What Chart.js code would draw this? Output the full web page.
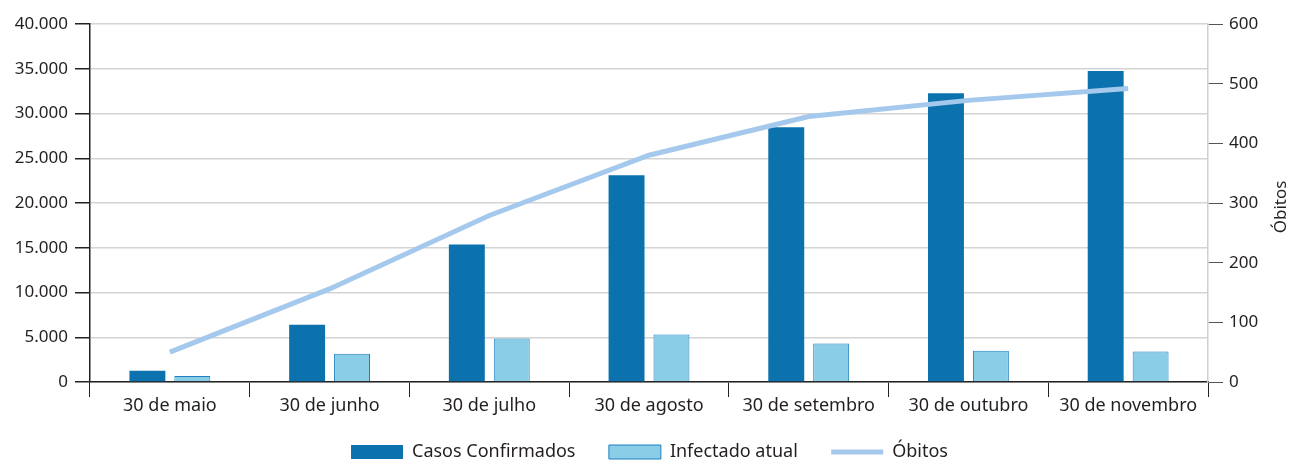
<!DOCTYPE html>
<html>
<head>
<meta charset="utf-8">
<script src="https://cdn.jsdelivr.net/npm/chart.js@4/dist/chart.umd.min.js"></script>
<style>
  html, body { margin: 0; padding: 0; background: #fff; }
  #wrap { width: 1299px; height: 460px; }
</style>
</head>
<body>
<div id="wrap"><canvas id="mycanvas" width="1299" height="460"></canvas></div>
<script>
const categories = ['30 de maio', '30 de junho', '30 de julho', '30 de agosto', '30 de setembro', '30 de outubro', '30 de novembro'];
const casosConfirmados = [1250, 6400, 15350, 23100, 28450, 32250, 34750];
const infectadoAtual = [680, 3150, 4850, 5300, 4300, 3500, 3400];
const obitos = [50, 156, 279, 380, 445, 472, 492];

const textColor = '#231f20';
const fontFamily = '"Noto Sans", "Open Sans", sans-serif';

const fmt = v => String(v).replace(/\B(?=(\d{3})+(?!\d))/g, '.');

// right axis title reads bottom-to-top, so it is drawn here
const rightTitle = {
    id: 'rightTitle',
    afterDraw: chart => {
        const { ctx, chartArea } = chart;
        ctx.save();
        ctx.translate(1281, (chartArea.top + chartArea.bottom) / 2 + 4);
        ctx.rotate(-Math.PI / 2);
        ctx.font = '17px ' + fontFamily;
        ctx.fillStyle = textColor;
        ctx.textAlign = 'center';
        ctx.textBaseline = 'middle';
        ctx.fillText('Óbitos', 0, 0);
        ctx.restore();
    }
};

function createChart() {
    const ctx = document.getElementById('mycanvas').getContext('2d');
    new Chart(ctx, {
        data: {
            labels: categories,
            datasets: [{
                type: 'bar',
                label: 'Casos Confirmados',
                data: casosConfirmados,
                backgroundColor: '#0c72ad',
                borderWidth: 0,
                yAxisID: 'y',
                order: 1,
                categoryPercentage: 0.5625,
                barPercentage: 0.8,
            },
            {
                type: 'bar',
                label: 'Infectado atual',
                data: infectadoAtual,
                backgroundColor: '#89cde6',
                borderColor: '#1f80c0',
                borderWidth: 1,
                yAxisID: 'y',
                order: 1,
                categoryPercentage: 0.5625,
                barPercentage: 0.8,
            },
            {
                type: 'line',
                label: 'Óbitos',
                data: obitos,
                borderColor: '#a5c9ec',
                backgroundColor: '#a5c9ec',
                borderWidth: 5,
                pointRadius: 0,
                tension: 0,
                yAxisID: 'y1',
                order: 0,
            }]
        },
        options: {
            responsive: false,
            animation: false,
            layout: { padding: { top: 24, left: 0, right: 0, bottom: -11 } },
            plugins: {
                title: { display: false },
                tooltip: { enabled: false },
                legend: {
                    position: 'bottom',
                    labels: {
                        usePointStyle: true,
                        pointStyleWidth: 52,
                        boxHeight: 14,
                        padding: 10,
                        color: textColor,
                        font: { family: fontFamily, size: 18 },
                        sort: (a, b) => a.datasetIndex - b.datasetIndex,
                        // trailing spaces widen the gap between items
                        generateLabels: chart => chart.data.datasets.map((ds, i, all) => ({
                            text: ds.label + (i < all.length - 1 ? '     ' : ''),
                            datasetIndex: i,
                            fillStyle: ds.type === 'line' ? ds.borderColor : ds.backgroundColor,
                            strokeStyle: ds.type === 'line' ? ds.borderColor : (ds.borderColor || ds.backgroundColor),
                            lineWidth: ds.type === 'line' ? 5 : ds.borderWidth,
                            pointStyle: ds.type === 'line' ? 'line' : 'rect',
                            fontColor: textColor,
                            hidden: false,
                        })),
                    }
                }
            },
            scales: {
                x: {
                    offset: true,
                    afterFit: scale => { scale.height = 51; },
                    grid: {
                        offset: true,
                        drawOnChartArea: false,
                        drawTicks: true,
                        tickLength: 15,
                        tickColor: '#222',
                    },
                    border: { color: '#222', width: 1.5 },
                    ticks: {
                        color: textColor,
                        padding: -2,
                        maxRotation: 0,
                        font: { family: fontFamily, size: 18 },
                    },
                },
                y: {
                    position: 'left',
                    min: 0,
                    max: 40000,
                    afterFit: scale => { scale.width = 90; },
                    grid: {
                        color: '#d4d4d4',
                        lineWidth: 1.5,
                        tickColor: '#222',
                        tickLength: 15,
                    },
                    border: { color: '#222', width: 1.5 },
                    ticks: {
                        stepSize: 5000,
                        color: textColor,
                        padding: 7,
                        font: { family: fontFamily, size: 17 },
                        callback: v => fmt(v),
                    },
                },
                y1: {
                    position: 'right',
                    min: 0,
                    max: 600,
                    afterFit: scale => { scale.width = 91; },
                    grid: {
                        drawOnChartArea: false,
                        tickColor: '#555',
                        tickLength: 15,
                    },
                    border: { color: '#cfcfcf', width: 1.5 },
                    ticks: {
                        stepSize: 100,
                        color: textColor,
                        padding: 6,
                        font: { family: fontFamily, size: 17 },
                    },
                },
            },
        },
        plugins: [rightTitle],
    });
}

createChart();
</script>
</body>
</html>
